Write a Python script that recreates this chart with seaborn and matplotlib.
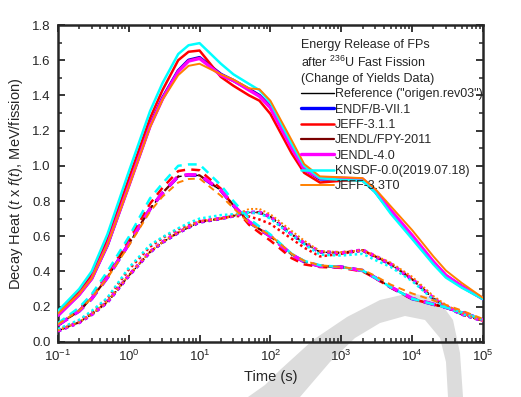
import numpy as np
import matplotlib
matplotlib.use("Agg")
import matplotlib.pyplot as plt
import matplotlib.ticker as mticker
from matplotlib.patches import Polygon
import seaborn as sns

# time grid (s)
times = [0.1, 0.2, 0.3, 0.5, 1, 2, 3, 5, 7, 10, 20, 30, 50, 70, 100, 200, 300, 500,
         1e3, 2e3, 3e3, 5e3, 1e4, 2e4, 3e4, 5e4, 1e5]

# solid curves
ref_total = [0.150, 0.268, 0.358, 0.548, 0.888, 1.228, 1.383, 1.538, 1.598, 1.613, 1.518, 1.483, 1.433, 1.398, 1.333,
             1.103, 0.979, 0.924, 0.925, 0.920, 0.855, 0.740, 0.595, 0.450, 0.375, 0.315, 0.245]
endf_total = [0.150, 0.270, 0.360, 0.550, 0.890, 1.230, 1.385, 1.540, 1.600, 1.615, 1.520, 1.485, 1.435, 1.400, 1.335,
              1.105, 0.980, 0.925, 0.925, 0.920, 0.855, 0.740, 0.595, 0.450, 0.375, 0.315, 0.245]
jeff311_total = [0.160, 0.285, 0.380, 0.580, 0.925, 1.270, 1.430, 1.600, 1.648, 1.655, 1.505, 1.455, 1.400, 1.370, 1.295,
                 1.070, 0.960, 0.905, 0.915, 0.915, 0.855, 0.740, 0.595, 0.450, 0.375, 0.315, 0.245]
jendlfpy_total = [0.150, 0.269, 0.359, 0.549, 0.889, 1.229, 1.384, 1.539, 1.599, 1.614, 1.519, 1.484, 1.434, 1.399, 1.334,
                  1.104, 0.980, 0.926, 0.926, 0.921, 0.856, 0.742, 0.598, 0.452, 0.376, 0.315, 0.245]
jendl40_total = [0.150, 0.268, 0.358, 0.550, 0.885, 1.225, 1.380, 1.535, 1.595, 1.610, 1.515, 1.485, 1.430, 1.395, 1.330,
                 1.100, 0.980, 0.930, 0.930, 0.925, 0.860, 0.748, 0.605, 0.455, 0.378, 0.316, 0.245]
knsdf_total = [0.175, 0.300, 0.400, 0.610, 0.965, 1.310, 1.470, 1.635, 1.685, 1.697, 1.580, 1.520, 1.465, 1.430, 1.360,
               1.125, 1.000, 0.930, 0.920, 0.915, 0.850, 0.728, 0.585, 0.440, 0.365, 0.308, 0.243]
jeff33_total = [0.160, 0.272, 0.360, 0.550, 0.880, 1.220, 1.375, 1.515, 1.568, 1.580, 1.520, 1.490, 1.440, 1.435, 1.370,
                1.145, 1.010, 0.940, 0.935, 0.930, 0.870, 0.770, 0.635, 0.485, 0.405, 0.335, 0.250]

# dashed curves
ref_dash = [0.095, 0.175, 0.245, 0.365, 0.555, 0.755, 0.845, 0.938, 0.947, 0.945, 0.860, 0.775, 0.680, 0.640, 0.600,
            0.495, 0.455, 0.430, 0.425, 0.405, 0.365, 0.310, 0.245, 0.213, 0.195, 0.168, 0.125]
endf_dash = [0.095, 0.175, 0.245, 0.365, 0.555, 0.755, 0.845, 0.940, 0.948, 0.945, 0.860, 0.775, 0.680, 0.640, 0.600,
             0.495, 0.455, 0.430, 0.425, 0.405, 0.365, 0.310, 0.245, 0.213, 0.195, 0.168, 0.125]
jeff311_dash = [0.100, 0.185, 0.258, 0.380, 0.575, 0.785, 0.875, 0.970, 0.980, 0.975, 0.870, 0.770, 0.665, 0.620, 0.575,
                0.475, 0.440, 0.425, 0.420, 0.400, 0.362, 0.308, 0.243, 0.212, 0.194, 0.167, 0.125]
jendlfpy_dash = [0.095, 0.176, 0.246, 0.366, 0.556, 0.756, 0.846, 0.940, 0.948, 0.946, 0.861, 0.776, 0.681, 0.641, 0.601,
                 0.496, 0.456, 0.431, 0.425, 0.405, 0.365, 0.310, 0.246, 0.214, 0.195, 0.168, 0.125]
jendl40_dash = [0.095, 0.175, 0.245, 0.365, 0.555, 0.755, 0.845, 0.942, 0.950, 0.948, 0.862, 0.778, 0.682, 0.642, 0.600,
                0.495, 0.455, 0.430, 0.425, 0.405, 0.365, 0.312, 0.247, 0.214, 0.196, 0.168, 0.124]
knsdf_dash = [0.105, 0.195, 0.270, 0.400, 0.595, 0.815, 0.900, 1.000, 1.008, 1.008, 0.890, 0.800, 0.700, 0.655, 0.610,
              0.500, 0.460, 0.435, 0.425, 0.405, 0.365, 0.310, 0.245, 0.213, 0.195, 0.168, 0.125]
jeff33_dash = [0.100, 0.178, 0.248, 0.362, 0.545, 0.740, 0.825, 0.905, 0.925, 0.928, 0.830, 0.760, 0.675, 0.640, 0.605,
               0.500, 0.460, 0.435, 0.425, 0.410, 0.375, 0.325, 0.275, 0.235, 0.210, 0.178, 0.130]

# dotted curves
ref_dot = [0.062, 0.110, 0.155, 0.225, 0.375, 0.510, 0.565, 0.620, 0.650, 0.680, 0.700, 0.715, 0.735, 0.735, 0.710,
           0.610, 0.560, 0.510, 0.505, 0.520, 0.485, 0.440, 0.355, 0.245, 0.200, 0.157, 0.120]
endf_dot = [0.062, 0.110, 0.155, 0.225, 0.375, 0.510, 0.565, 0.620, 0.650, 0.680, 0.700, 0.715, 0.735, 0.735, 0.710,
            0.610, 0.560, 0.510, 0.505, 0.520, 0.485, 0.440, 0.355, 0.245, 0.200, 0.157, 0.120]
jeff311_dot = [0.068, 0.120, 0.165, 0.245, 0.410, 0.540, 0.590, 0.640, 0.665, 0.685, 0.700, 0.715, 0.712, 0.695, 0.670,
               0.585, 0.535, 0.485, 0.500, 0.520, 0.485, 0.440, 0.355, 0.245, 0.200, 0.157, 0.120]
jendlfpy_dot = [0.063, 0.111, 0.156, 0.226, 0.376, 0.511, 0.566, 0.621, 0.651, 0.681, 0.701, 0.716, 0.736, 0.736, 0.711,
                0.611, 0.561, 0.511, 0.506, 0.521, 0.486, 0.441, 0.356, 0.246, 0.200, 0.157, 0.120]
jendl40_dot = [0.062, 0.110, 0.155, 0.226, 0.376, 0.512, 0.567, 0.622, 0.652, 0.682, 0.702, 0.716, 0.736, 0.736, 0.712,
               0.612, 0.562, 0.512, 0.506, 0.522, 0.488, 0.442, 0.358, 0.248, 0.201, 0.158, 0.120]
knsdf_dot = [0.072, 0.125, 0.175, 0.250, 0.420, 0.550, 0.595, 0.645, 0.675, 0.700, 0.720, 0.725, 0.735, 0.730, 0.700,
             0.605, 0.555, 0.495, 0.490, 0.500, 0.465, 0.425, 0.345, 0.240, 0.198, 0.158, 0.125]
jeff33_dot = [0.065, 0.112, 0.157, 0.228, 0.378, 0.512, 0.567, 0.622, 0.655, 0.685, 0.700, 0.715, 0.755, 0.755, 0.725,
              0.630, 0.575, 0.515, 0.510, 0.520, 0.490, 0.450, 0.370, 0.260, 0.210, 0.165, 0.120]

labels = ['Reference ("origen.rev03")', "ENDF/B-VII.1", "JEFF-3.1.1", "JENDL/FPY-2011",
          "JENDL-4.0", "KNSDF-0.0(2019.07.18)", "JEFF-3.3T0"]
colors = ["black", "#0000ff", "#ff0000", "#7a0000", "#ff00ff", "#00ffff", "#ff8000"]
widths = [1.0, 2.4, 1.8, 1.6, 2.4, 1.8, 1.4]

totals = [ref_total, endf_total, jeff311_total, jendlfpy_total, jendl40_total, knsdf_total, jeff33_total]
dashes = [ref_dash, endf_dash, jeff311_dash, jendlfpy_dash, jendl40_dash, knsdf_dash, jeff33_dash]
dots = [ref_dot, endf_dot, jeff311_dot, jendlfpy_dot, jendl40_dot, knsdf_dot, jeff33_dot]

sns.set_style("ticks")
plt.rcParams["font.family"] = ["Liberation Sans", "DejaVu Sans"]
plt.rcParams["mathtext.fontset"] = "custom"
plt.rcParams["mathtext.rm"] = "Liberation Sans"
plt.rcParams["mathtext.it"] = "Liberation Sans:italic"

fig = plt.figure(figsize=(5.21, 3.97), dpi=100)
ax = fig.add_axes([0.111, 0.139, 0.816, 0.798])

# faint background watermark (decoration only)
outer = [(248, 397), (265, 385), (280, 370), (313, 340), (347, 317), (380, 300), (410, 293),
         (437, 298), (453, 320), (460, 353), (463, 397)]
inner = [(448, 397), (446, 362), (440, 338), (425, 320), (405, 316), (380, 323), (355, 338),
         (330, 362), (300, 397)]
pts = [(x / 521, 1 - y / 397) for x, y in outer + inner]
ax.add_patch(Polygon(pts, closed=True, transform=fig.transFigure, facecolor="#dcdcdc",
                     edgecolor="none", clip_on=False, zorder=0))

handles = []
for i in range(len(labels)):
    sns.lineplot(x=times, y=totals[i], color=colors[i], lw=widths[i], ax=ax, zorder=2 + i)
    handles.append(ax.lines[-1])
for i in range(len(labels)):
    sns.lineplot(x=times, y=dashes[i], color=colors[i], lw=widths[i], ax=ax,
                 linestyle=(0, (3.5, 2.5)), zorder=2 + i)
for i in range(len(labels)):
    sns.lineplot(x=times, y=dots[i], color=colors[i], lw=widths[i], ax=ax,
                 linestyle=(0, (1, 1.2)), zorder=2 + i)

ax.set_xscale("log")
ax.set_xlim(0.1, 1e5)
ax.set_ylim(0, 1.8)
ax.set_yticks(np.arange(0, 1.81, 0.2))
ax.yaxis.set_major_formatter(mticker.FormatStrFormatter("%.1f"))
ax.yaxis.set_minor_locator(mticker.MultipleLocator(0.1))
ax.xaxis.set_major_locator(mticker.LogLocator(base=10, numticks=10))
ax.xaxis.set_minor_locator(mticker.LogLocator(base=10, subs=np.arange(2, 10), numticks=20))
ax.xaxis.set_minor_formatter(mticker.NullFormatter())

ax.tick_params(which="both", direction="in", top=True, right=True, labelsize=9.5, pad=5)
ax.tick_params(which="major", length=5, width=1.3)
ax.tick_params(which="minor", length=2.8, width=1.1)
for sp in ax.spines.values():
    sp.set_linewidth(1.8)

ax.set_xlabel("Time (s)", fontsize=10.5, labelpad=4)
ax.set_ylabel("Decay Heat ($t$ x $f(t)$, MeV/fission)", fontsize=10.5)
ax.yaxis.set_label_coords(-0.078, 0.5)

leg = ax.legend(handles, labels, loc="upper left", bbox_to_anchor=(0.573, 0.955),
                frameon=False, fontsize=9, borderpad=0, borderaxespad=0,
                handlelength=2.6, handletextpad=0.1, labelspacing=0.27,
                title="Energy Release of FPs\nafter $^{236}$U Fast Fission\n(Change of Yields Data)",
                title_fontsize=9, alignment="left")
leg.get_title().set_linespacing(1.3)
leg.set_zorder(20)

fig.savefig("out.png", dpi=100)
